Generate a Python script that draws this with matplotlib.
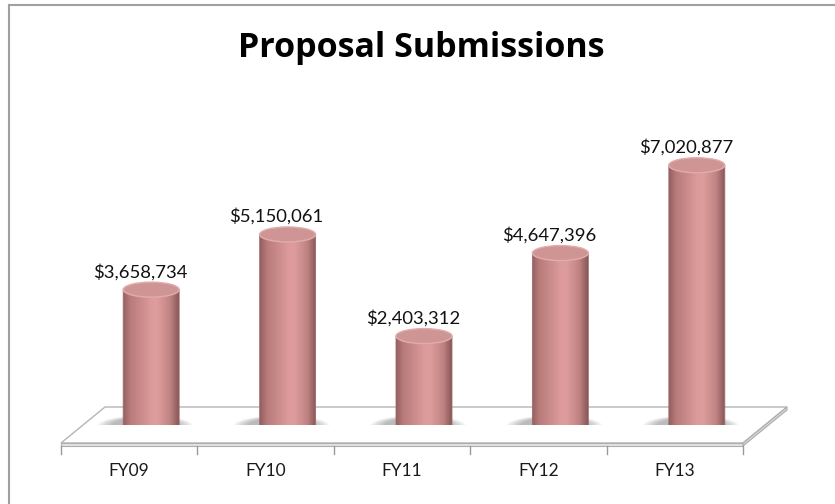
import numpy as np
import matplotlib
matplotlib.use('Agg')
import matplotlib.pyplot as plt
from matplotlib.patches import Ellipse, Polygon
from matplotlib.lines import Line2D
from matplotlib.colors import LinearSegmentedColormap

plt.rcParams['font.family'] = ['Lato', 'DejaVu Sans']

years = ['FY09', 'FY10', 'FY11', 'FY12', 'FY13']
amounts = [3658734, 5150061, 2403312, 4647396, 7020877]

W, H = 835, 504
fig = plt.figure(figsize=(W / 100, H / 100), dpi=100)

# axes box: mid-depth plane of the 3d floor
ax_w, ax_h = 682, 325
px_per_m = 37.0
ax = fig.add_axes([83 / W, 79 / H, ax_w / W, ax_h / H])
ymax = ax_h / px_per_m * 1e6

def dx(p):
    return p / (ax_w / 5)

def dy(p):
    return p / px_per_m * 1e6

depth_x, depth_y = 22, 18

# floor
fl = (-0.5 - dx(depth_x), -dy(depth_y))
fr = (4.5 - dx(depth_x), -dy(depth_y))
br = (4.5 + dx(depth_x), dy(depth_y))
bl = (-0.5 + dx(depth_x), dy(depth_y))
ax.add_patch(Polygon([fl, fr, br, bl], closed=True, facecolor='white',
                     edgecolor='#b5b5b5', lw=1.0, clip_on=False, zorder=1))
th = dy(3)
ax.add_patch(Polygon([fl, fr, (fr[0], fr[1] - th), (fl[0], fl[1] - th)], closed=True,
                     facecolor='#e3e3e3', edgecolor='#adadad', lw=0.8, clip_on=False, zorder=1))
ax.add_patch(Polygon([fr, br, (br[0], br[1] - th), (fr[0], fr[1] - th)], closed=True,
                     facecolor='#d6d6d6', edgecolor='#adadad', lw=0.8, clip_on=False, zorder=1))

# ticks between categories on the front edge
for k in range(6):
    x = k - 0.5 - dx(depth_x)
    ax.plot([x, x], [-dy(depth_y) - th, -dy(depth_y + 11)], color='#9a9a9a', lw=1,
            clip_on=False, zorder=1)

# category labels
for i, name in enumerate(years):
    ax.text(i - dx(depth_x), -dy(46), name, ha='center', va='center', fontsize=12.5,
            color='#1a1a1a')

# cylinders
body_cmap = LinearSegmentedColormap.from_list(
    'cyl', [(0, '#946060'), (0.12, '#b87a7a'), (0.5, '#dc9a9a'),
            (0.62, '#de9c9c'), (0.85, '#bf8282'), (1, '#885858')])
grad = np.linspace(0, 1, 200).reshape(1, -1)
w = dx(56)
eh = dy(7.5)
t = np.linspace(np.pi, 2 * np.pi, 60)

for i, v in enumerate(amounts):
    # soft shadow on the floor
    for s in range(8):
        ax.add_patch(Ellipse((i - dx(6), -dy(1)), w + dx(40 - 4 * s), 2 * eh + dy(6 - 0.6 * s),
                             facecolor='#555555', edgecolor='none', alpha=0.06, zorder=2))
    xs = np.concatenate([[i - w / 2], i + w / 2 * np.cos(t), [i + w / 2]])
    ys = np.concatenate([[v], eh * np.sin(t), [v]])
    clip = Polygon(np.column_stack([xs, ys]), closed=True, facecolor='none',
                   edgecolor='#a06a6a', lw=0.6, zorder=4)
    ax.add_patch(clip)
    im = ax.imshow(grad, extent=[i - w / 2, i + w / 2, -eh, v], aspect='auto',
                   cmap=body_cmap, zorder=3)
    im.set_clip_path(clip)
    ax.add_patch(Ellipse((i, v), w, 2 * eh, facecolor='#cf9595', edgecolor='#e2acac',
                         lw=1.0, zorder=5))
    ax.annotate(f'${v:,.0f}', xy=(i, v + eh), xytext=(-11, 5), textcoords='offset pixels',
                ha='center', va='baseline', fontsize=13.3, color='#111111', zorder=6)

ax.set_xlim(-0.5, 4.5)
ax.set_ylim(0, ymax)
ax.axis('off')

fig.text(0.505, 1 - 48 / H, 'Proposal Submissions', ha='center', va='center',
         fontsize=24.5, fontweight='bold', color='black', family=['Open Sans', 'DejaVu Sans'])

# chart frame (only left and top edges are inside the crop)
fig.add_artist(Line2D([8.5 / W, 8.5 / W], [0, 1 - 4.5 / H], transform=fig.transFigure,
                      color='#a0a0a0', lw=1.5))
fig.add_artist(Line2D([8.5 / W, 1], [1 - 4.5 / H, 1 - 4.5 / H], transform=fig.transFigure,
                      color='#a0a0a0', lw=1.5))

fig.savefig('out.png', dpi=100)
